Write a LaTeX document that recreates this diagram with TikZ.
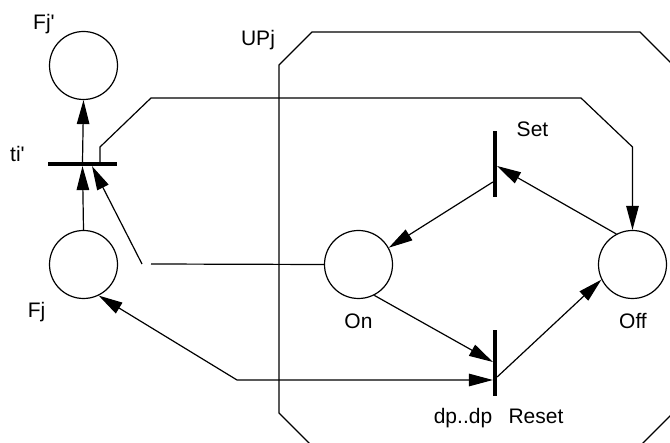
\documentclass[tikz,border=0pt]{standalone}
\usepackage{fontspec}
\setmainfont{Liberation Sans}
\usetikzlibrary{arrows.meta}
\begin{document}
\begin{tikzpicture}[x=1pt,y=-1pt,
  ln/.style={line width=1.2pt},
  arr/.style={ln,-{Triangle[length=24pt,width=12.5pt]}},
  dbl/.style={ln,{Triangle[length=24pt,width=12.5pt]}-{Triangle[length=24pt,width=12.5pt]}},
  place/.style={circle,draw,line width=1.2pt,minimum size=68pt,inner sep=0pt},
  hbar/.style={fill=black,draw=none,minimum width=69pt,minimum height=3.8pt,inner sep=0pt},
  vbar/.style={fill=black,draw=none,minimum width=3.8pt,minimum height=66pt,inner sep=0pt},
  lab/.style={font=\fontsize{21}{25}\selectfont,inner sep=0pt,anchor=base}]
\useasboundingbox (0,0) rectangle (670,443);
% UPj boundary
\begin{scope}
\clip (0,0) rectangle (670,443);
\draw[ln] (279,65) -- (312,32) -- (640,32) -- (673,65) -- (673,413) -- (640,446) -- (312,446) -- (279,413) -- cycle;
\end{scope}
% places
\node[place] (Fjp) at (83.5,65.5) {};
\node[place] (Fj)  at (83.5,264.5) {};
\node[place] (On)  at (358.5,264.5) {};
\node[place] (Off) at (632.5,264.5) {};
% transitions
\node[hbar] (ti)    at (82.5,164) {};
\node[vbar] (set)   at (495,164.5) {};
\node[vbar] (reset) at (495,363) {};
% labels
\node[lab] (lFjp)   at (44,29.5)   {Fj\textquotesingle};
\node[lab] (lUPj)   at (258,45.5)  {UPj};
\node[lab] (lti)    at (17.5,161.5) {ti\textquotesingle};
\node[lab] (lset)   at (532.5,136.5) {Set};
\node[lab] (lFj)    at (36.5,317.5) {Fj};
\node[lab] (lOn)    at (358.5,328.5) {On};
\node[lab] (lOff)   at (633,328.5) {Off};
\node[lab] (ldp)    at (463,423.5) {dp..dp};
\node[lab] (lreset) at (536,423.5) {Reset};
% free points
\coordinate (g1) at (151,264);
\coordinate (g2) at (142,264);
\coordinate (r1) at (100,147);
\coordinate (r2) at (151,98);
\coordinate (r3) at (581,98);
\coordinate (r4) at (632.5,147);
\coordinate (b1) at (237,380);
% arcs
\draw[arr] (ti.north) -- (Fjp.south);
\draw[arr] (Fj.north) -- (ti.south);
\draw[ln] (On.west) -- (g1);
\draw[arr] (g2) -- (92,0 |- ti.south);
\draw[arr] (100,0 |- ti.north) -- (r1) -- (r2) -- (r3) -- (r4) -- (Off.north);
\draw[arr] (Off.118) -- (set.east |- 0,166);
\draw[arr] (set.west |- 0,182) -- (On.29);
\draw[arr] (On.-63) -- (reset.west |- 0,362);
\draw[arr] (reset.east |- 0,377) -- (Off.-154);
\draw[dbl] (Fj.-64) -- (b1) -- (reset.west |- 0,380);
\end{tikzpicture}
\end{document}
